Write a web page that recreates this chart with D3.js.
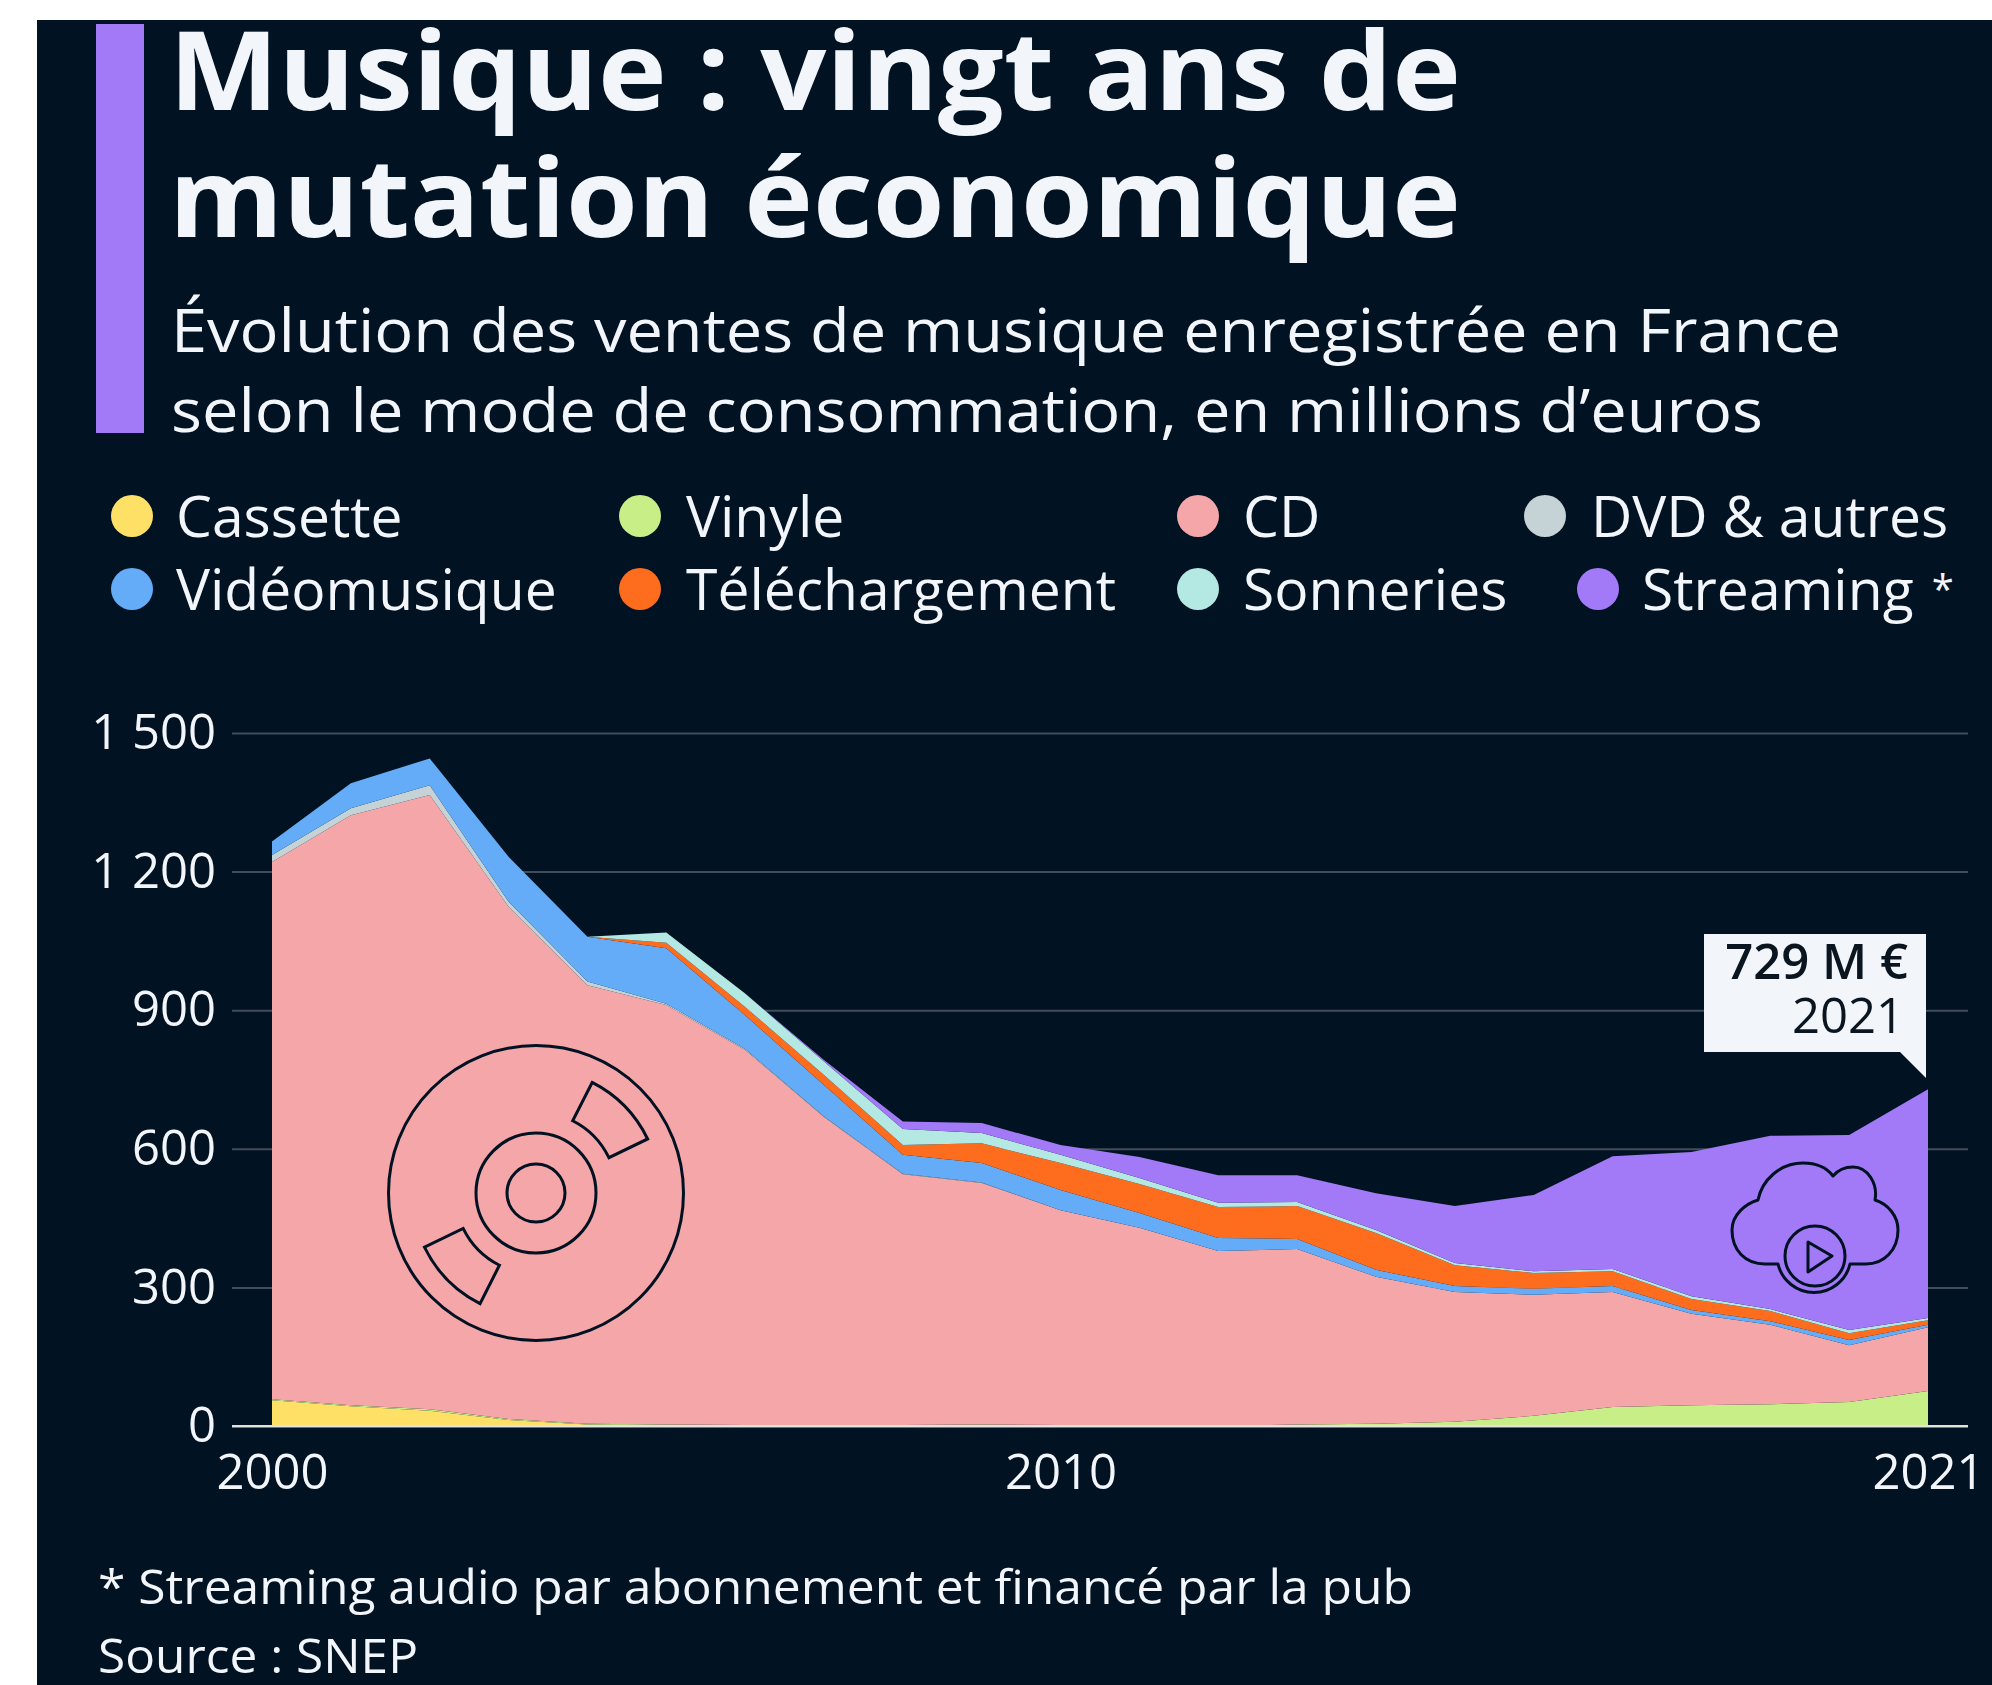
<!DOCTYPE html>
<html lang="fr">
<head>
    <meta charset="UTF-8">
    <title>Musique : vingt ans de mutation économique</title>
    <script src="https://d3js.org/d3.v7.min.js"></script>
    <style>
        html, body { margin: 0; background: #fff; }
        svg { display: block; }
        text { font-family: "Open Sans", sans-serif; }
    </style>
</head>
<body>

    <svg id="svg" width="1992" height="1685"></svg>

    <script>
        const years = d3.range(2000, 2022);

        const cassette = [56, 43, 33, 13, 3, 1, 0, 0, 0, 0, 0, 0, 0, 0, 0, 0, 0, 0, 0, 0, 0, 0];
        const vinyle = [2, 2, 3, 2, 2, 2, 2, 2, 2, 3, 2, 1, 1, 3, 5, 9, 22, 41, 45, 47, 52, 76];
        const cd = [1163, 1277, 1330, 1109, 949, 908, 812, 667, 543, 523, 465, 428, 378, 380, 318, 281, 262, 249, 198, 172, 123, 138];
        const dvd = [15, 15, 21, 11, 8, 3, 2, 1, 1, 1, 0, 0, 0, 0, 0, 0, 0, 0, 0, 0, 0, 0];
        const video = [29, 54, 58, 97, 97, 120, 73, 68, 41, 42, 44, 32, 28, 22, 15, 13, 13, 13, 8, 8, 11, 5];
        const telechargement = [0, 0, 0, 0, 0, 12, 18, 22, 21, 43, 58, 63, 67, 71, 80, 45, 34, 32, 24, 22, 15, 10];
        const sonneries = [0, 0, 0, 0, 0, 22, 29, 29, 35, 22, 18, 13, 9, 9, 6, 5, 4, 5, 6, 4, 7, 5];
        const streaming = [0, 0, 0, 0, 0, 0, 0, 3, 16, 22, 21, 45, 60, 58, 80, 123, 165, 244, 312, 375, 422, 495];

        const seriesNames = ['Cassette', 'Vinyle', 'CD', 'DVD & autres', 'Vidéomusique', 'Téléchargement', 'Sonneries', 'Streaming *'];
        const seriesValues = [cassette, vinyle, cd, dvd, video, telechargement, sonneries, streaming];
        const seriesColors = ['#ffe066', '#c8ef87', '#f4a6a9', '#c5d3d6', '#64acf7', '#fe6c1e', '#b4e8e3', '#a279f6'];

        const yTicks = [0, 300, 600, 900, 1200, 1500];
        const xTicks = [2000, 2010, 2021];

        const bg = '#011222';
        const ink = '#f2f6fb';

        const svg = d3.select('svg');

        svg.append('rect')
            .attr('x', 37).attr('y', 20)
            .attr('width', 1955).attr('height', 1665)
            .attr('fill', bg);

        // header
        svg.append('rect')
            .attr('x', 96).attr('y', 24)
            .attr('width', 48).attr('height', 409)
            .attr('fill', '#a279f6');

        // the reference text runs a little wider than the installed font, so the widths are forced
        const titleLines = [['Musique : vingt ans de', 110, 1292], ['mutation économique', 237, 1292]];
        svg.selectAll('.title')
            .data(titleLines)
            .enter()
            .append('text')
            .attr('class', 'title')
            .attr('x', 169)
            .attr('y', d => d[1])
            .attr('font-size', 110)
            .attr('font-weight', 700)
            .attr('fill', ink)
            .attr('textLength', d => d[2])
            .attr('lengthAdjust', 'spacingAndGlyphs')
            .text(d => d[0]);

        const subLines = [['Évolution des ventes de musique enregistrée en France', 352, 1670], ['selon le mode de consommation, en millions d’euros', 432, 1592]];
        svg.selectAll('.sub')
            .data(subLines)
            .enter()
            .append('text')
            .attr('class', 'sub')
            .attr('x', 171)
            .attr('y', d => d[1])
            .attr('font-size', 61)
            .attr('fill', ink)
            .attr('textLength', d => d[2])
            .attr('lengthAdjust', 'spacingAndGlyphs')
            .text(d => d[0]);

        // legend
        const legendPos = [
            { cx: 132, tx: 176, y: 516 }, { cx: 640, tx: 686, y: 516 },
            { cx: 1198, tx: 1243, y: 516 }, { cx: 1545, tx: 1591, y: 516 },
            { cx: 132, tx: 176, y: 589 }, { cx: 640, tx: 686, y: 589 },
            { cx: 1198, tx: 1243, y: 589 }, { cx: 1598, tx: 1642, y: 589 }
        ];
        const legend = svg.selectAll('.legend')
            .data(seriesNames)
            .enter()
            .append('g')
            .attr('class', 'legend');
        legend.append('circle')
            .attr('cx', (d, i) => legendPos[i].cx)
            .attr('cy', (d, i) => legendPos[i].y)
            .attr('r', 21)
            .attr('fill', (d, i) => seriesColors[i]);
        const legendText = legend.append('text')
            .attr('x', (d, i) => legendPos[i].tx)
            .attr('y', (d, i) => legendPos[i].y + 21)
            .attr('font-size', 57)
            .attr('fill', ink);
        legendText.append('tspan').text(d => d.replace(' *', ''));
        legendText.filter(d => d.endsWith('*'))
            .append('tspan')
            .attr('font-size', 40)
            .attr('dx', 18)
            .attr('dy', -6)
            .text('*');

        // scales
        const x = d3.scaleLinear().domain([2000, 2021]).range([272, 1928]);
        const y = d3.scaleLinear().domain([0, 1500]).range([1426, 733]);

        const rows = years.map((yr, i) => {
            const row = { year: yr };
            seriesNames.forEach((name, s) => { row[name] = seriesValues[s][i]; });
            return row;
        });
        const stacked = d3.stack().keys(seriesNames)(rows);

        const frFormat = d => d >= 1000 ? d3.format('d')(Math.floor(d / 1000)) + ' ' + d3.format('03d')(d % 1000) : String(d);

        // gridlines come from the y axis, its ticks run the whole plot width
        const yAxis = svg.append('g')
            .attr('transform', 'translate(232,0)')
            .call(d3.axisLeft(y).tickValues(yTicks).tickFormat(frFormat).tickSize(-1736).tickPadding(16));
        yAxis.select('.domain').remove();
        yAxis.selectAll('line')
            .attr('stroke', d => d === 0 ? '#cfd4d8' : '#414d5a')
            .attr('stroke-width', 2);
        yAxis.selectAll('text')
            .attr('font-size', 49)
            .attr('fill', ink)
            .style('font-family', '"Open Sans", sans-serif');

        const area = d3.area()
            .x(d => x(d.data.year))
            .y0(d => y(d[0]))
            .y1(d => y(d[1]));

        svg.append('g')
            .selectAll('path')
            .data(stacked)
            .enter()
            .append('path')
            .attr('d', area)
            .attr('fill', (d, i) => seriesColors[i]);

        // zero line stays on top of the areas
        svg.append('line')
            .attr('x1', 232).attr('x2', 1968)
            .attr('y1', y(0)).attr('y2', y(0))
            .attr('stroke', '#e4e2de')
            .attr('stroke-width', 2);

        const xAxis = svg.append('g')
            .attr('transform', `translate(0,${y(0)})`)
            .call(d3.axisBottom(x).tickValues(xTicks).tickFormat(d3.format('d')).tickSize(0).tickPadding(28));
        xAxis.select('.domain').remove();
        xAxis.selectAll('text')
            .attr('font-size', 49)
            .attr('fill', ink)
            .style('font-family', '"Open Sans", sans-serif');

        // disc icon
        const disc = svg.append('g')
            .attr('transform', 'translate(536,1193)')
            .attr('fill', 'none')
            .attr('stroke', bg)
            .attr('stroke-width', 3);
        [147.5, 60, 29].forEach(r => disc.append('circle').attr('r', r));
        const wedge = d3.arc().innerRadius(81).outerRadius(124);
        [[0.47, 1.12], [3.61, 4.26]].forEach(a => {
            disc.append('path').attr('d', wedge({ startAngle: a[0], endAngle: a[1] }));
        });

        // cloud icon
        const cloud = svg.append('g')
            .attr('fill', 'none')
            .attr('stroke', bg)
            .attr('stroke-width', 3)
            .attr('stroke-linejoin', 'round');
        cloud.append('path')
            .attr('d', 'M1778,1264 L1765,1264 C1745,1264 1732,1250 1732,1230 C1732,1215 1745,1204 1758,1200 ' +
                'C1762,1180 1780,1163 1803,1163 C1816,1163 1827,1168 1833,1176 C1838,1170 1845,1167 1853,1167 ' +
                'C1868,1167 1878,1184 1875,1200 C1888,1204 1898,1216 1898,1230 C1898,1250 1884,1264 1866,1264 L1850,1264 ' +
                'A37,37 0 0 1 1778,1264 Z');
        cloud.append('circle').attr('cx', 1815).attr('cy', 1256).attr('r', 30);
        cloud.append('path').attr('d', 'M1808,1242 L1832,1256 L1808,1272 Z');

        // callout
        svg.append('path')
            .attr('d', 'M1704,934 H1926 V1078 L1900,1052 H1704 Z')
            .attr('fill', '#f2f6fb');
        svg.append('text')
            .attr('x', 1908).attr('y', 979)
            .attr('text-anchor', 'end')
            .attr('font-size', 49)
            .attr('font-weight', 600)
            .attr('fill', '#0b1520')
            .text('729 M €');
        svg.append('text')
            .attr('x', 1904).attr('y', 1033)
            .attr('text-anchor', 'end')
            .attr('font-size', 49)
            .attr('fill', '#0b1520')
            .text('2021');

        // footnotes
        svg.append('text')
            .attr('x', 98).attr('y', 1604)
            .attr('font-size', 47)
            .attr('fill', ink)
            .attr('textLength', 1315)
            .attr('lengthAdjust', 'spacingAndGlyphs')
            .text('* Streaming audio par abonnement et financé par la pub');
        svg.append('text')
            .attr('x', 98).attr('y', 1673)
            .attr('font-size', 47)
            .attr('fill', ink)
            .attr('textLength', 320)
            .attr('lengthAdjust', 'spacingAndGlyphs')
            .text('Source : SNEP');
    </script>

</body>
</html>
